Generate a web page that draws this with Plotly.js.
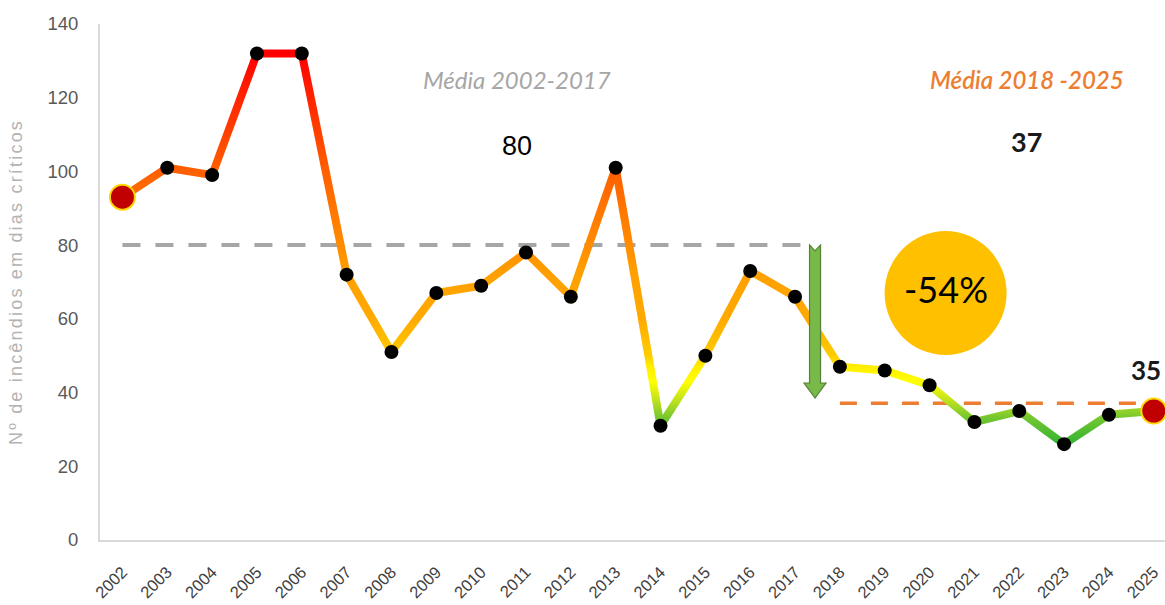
<!DOCTYPE html>
<html>
<head>
<meta charset="utf-8">
<script src="https://cdn.plot.ly/plotly-3.0.1.min.js"></script>
<style>
  html, body { margin: 0; padding: 0; background: #ffffff; }
  #chart { width: 1165px; height: 605px; }
</style>
</head>
<body>
<div id="chart"></div>
<script>
// ---- data ----
const years = ['2002','2003','2004','2005','2006','2007','2008','2009','2010','2011','2012','2013',
               '2014','2015','2016','2017','2018','2019','2020','2021','2022','2023','2024','2025'];
const fires = [93, 101, 99, 132, 132, 72, 51, 67, 69, 78, 66, 101,
               31, 50, 73, 66, 47, 46, 42, 32, 35, 26, 34, 35];
const splitYear = '2018';
const labelBefore = 'Média 2002-2017';
const labelAfter = 'Média 2018 -2025';
const yTitle = 'Nº de incêndios em dias críticos';

// colour ramp of the line by value
const rampValues = [132, 115, 100, 80, 72, 60, 50, 47, 43, 38, 33, 26];
const rampColors = ['#ff0000', '#ff3300', '#ff5f00', '#ff8c00', '#ffa000', '#ffaa00',
                    '#ffcc00', '#ffee00', '#ffff00', '#c2e21e', '#72c630', '#33b233'];

// ---- derived ----
const splitIdx = years.indexOf(splitYear);
const before = fires.slice(0, splitIdx);
const after = fires.slice(splitIdx);
const mean = a => a.reduce((s, v) => s + v, 0) / a.length;
const meanBefore = mean(before);
const meanAfter = mean(after);
const change = Math.round((meanAfter / meanBefore - 1) * 100);
const last = years.length - 1;
const isEnd = i => i === 0 || i === last;

const trace = {
  x: years, y: fires, type: 'scatter', mode: 'lines+markers',
  line: { width: 8, color: '#ffa000' },
  marker: { opacity: 1,
            size: fires.map((v, i) => isEnd(i) ? 25 : 14),
            color: fires.map((v, i) => isEnd(i) ? '#c00000' : '#000000'),
            line: { color: fires.map((v, i) => isEnd(i) ? '#ffd700' : '#000000'),
                    width: fires.map((v, i) => isEnd(i) ? 2 : 0) } },
  cliponaxis: false, hoverinfo: 'x+y', showlegend: false
};

const txtFont = 'Lato, "Liberation Sans", sans-serif';
const sans = '"Liberation Sans", Arial, sans-serif';
const layout = {
  width: 1165, height: 605,
  margin: { l: 100, r: 0, t: 24, b: 65 },
  paper_bgcolor: '#ffffff', plot_bgcolor: '#ffffff',
  showlegend: false,
  xaxis: {
    type: 'category', range: [-0.5, 23.25],
    showline: true, linecolor: '#d9d9d9', linewidth: 2,
    showgrid: false, zeroline: false, ticks: '',
    tickangle: -45, ticklabelstandoff: 14,
    tickfont: { family: sans, size: 16.5, color: '#404040' }
  },
  yaxis: {
    range: [0, 140], dtick: 20,
    showline: true, linecolor: '#d9d9d9', linewidth: 2,
    showgrid: false, zeroline: false, ticks: '',
    ticklabelstandoff: 16,
    tickfont: { family: sans, size: 18.5, color: '#595959' },
    title: { text: yTitle, standoff: 20,
             font: { family: sans, size: 18, color: '#b3b3b3' } }
  },
  shapes: [
    { type: 'line', layer: 'below', xref: 'x', yref: 'paper',
      x0: splitYear, x1: splitYear, y0: -0.016, y1: 0.973,
      line: { color: '#7f7f7f', width: 1.2 } },
    { type: 'line', layer: 'below', xref: 'x', yref: 'y',
      x0: 0, x1: 15.45, y0: meanBefore, y1: meanBefore,
      line: { color: '#a6a6a6', width: 4, dash: '18px,15px' } },
    { type: 'line', layer: 'below', xref: 'x', yref: 'y',
      x0: splitIdx, x1: last, y0: meanAfter, y1: meanAfter,
      line: { color: '#ed7d31', width: 3.5, dash: '17px,14px' } },
    { type: 'path', layer: 'above', xref: 'paper', yref: 'y',
      xsizemode: 'pixel', xanchor: 0.6714,
      path: 'M -5.5,' + meanBefore + ' L 0,' + (meanBefore - 1.6) + ' L 5.5,' + meanBefore +
            ' L 5.5,42.6 L 11,42.6 L 0,38.5 L -11,42.6 L -5.5,42.6 Z',
      fillcolor: '#78b94a', line: { color: '#548235', width: 1.2 } },
    { type: 'circle', layer: 'above', xref: 'paper', yref: 'y',
      xsizemode: 'pixel', ysizemode: 'pixel', xanchor: 0.794, yanchor: 67,
      x0: -61, x1: 61, y0: -62, y1: 62,
      fillcolor: '#ffc000', line: { width: 0 } }
  ],
  annotations: [
    { xref: 'paper', yref: 'y', x: 0.3915, y: 125, xanchor: 'center', yanchor: 'middle', showarrow: false,
      text: labelBefore,
      font: { family: txtFont, size: 24, color: '#a6a6a6', style: 'italic' } },
    { xref: 'paper', yref: 'y', x: 0.3915, y: 107, xanchor: 'center', yanchor: 'middle', showarrow: false,
      text: String(Math.round(meanBefore)),
      font: { family: sans, size: 27, color: '#000000' } },
    { xref: 'paper', yref: 'y', x: 0.870, y: 125, xanchor: 'center', yanchor: 'middle', showarrow: false,
      text: labelAfter,
      font: { family: txtFont, size: 24, color: '#ed7d31', style: 'italic', weight: 600 } },
    { xref: 'paper', yref: 'y', x: 0.870, y: 108, xanchor: 'center', yanchor: 'middle', showarrow: false,
      text: String(Math.round(meanAfter)),
      font: { family: txtFont, size: 27, color: '#1a1a1a', weight: 700 } },
    { xref: 'paper', yref: 'y', x: 0.998, y: fires[last], yshift: 41,
      xanchor: 'right', yanchor: 'middle', showarrow: false,
      text: String(fires[last]),
      font: { family: txtFont, size: 26, color: '#1a1a1a', weight: 700 } },
    { xref: 'paper', yref: 'y', x: 0.794, y: 68, xanchor: 'center', yanchor: 'middle', showarrow: false,
      text: (change > 0 ? '+' : '') + change + '%',
      font: { family: txtFont, size: 36, color: '#000000' } }
  ]
};

Plotly.newPlot('chart', [trace], layout, { displayModeBar: false, staticPlot: true }).then(gd => {
  const ya = gd._fullLayout.yaxis;
  const svg = gd.querySelector('.main-svg');
  const NS = 'http://www.w3.org/2000/svg';
  const defs = document.createElementNS(NS, 'defs');
  const grad = document.createElementNS(NS, 'linearGradient');
  grad.setAttribute('id', 'fireGradient');
  grad.setAttribute('gradientUnits', 'userSpaceOnUse');
  grad.setAttribute('x1', 0); grad.setAttribute('x2', 0);
  grad.setAttribute('y1', ya.l2p(140)); grad.setAttribute('y2', ya.l2p(0));
  rampValues.forEach((v, i) => {
    const s = document.createElementNS(NS, 'stop');
    s.setAttribute('offset', ((140 - v) / 140).toFixed(4));
    s.setAttribute('stop-color', rampColors[i]);
    grad.appendChild(s);
  });
  defs.appendChild(grad);
  svg.insertBefore(defs, svg.firstChild);
  const path = gd.querySelector('.scatterlayer .trace path.js-line');
  if (path) path.style.stroke = 'url(#fireGradient)';
  const yt = gd.querySelector('.ytitle');
  if (yt) yt.style.letterSpacing = '2.2px';
});
</script>
</body>
</html>
